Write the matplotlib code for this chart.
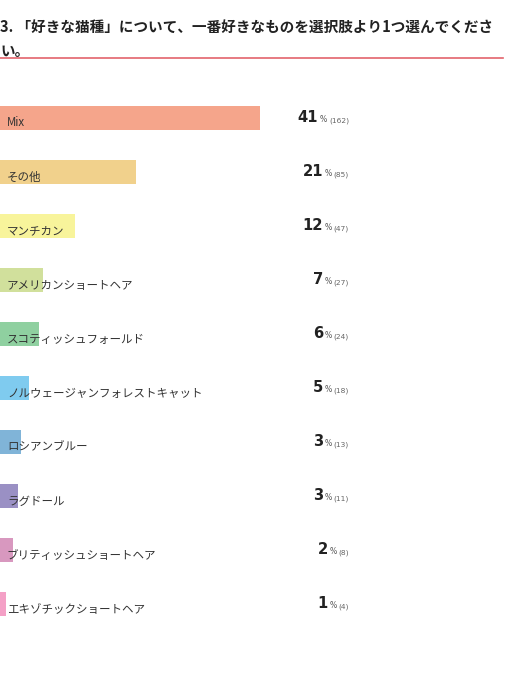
import matplotlib

matplotlib.use("Agg")

import matplotlib.pyplot as plt
from matplotlib.transforms import blended_transform_factory

plt.rcParams["font.family"] = ["Noto Sans CJK JP", "DejaVu Sans"]

breeds = [
    "Mix",
    "その他",
    "マンチカン",
    "アメリカンショートヘア",
    "スコティッシュフォールド",
    "ノルウェージャンフォレストキャット",
    "ロシアンブルー",
    "ラグドール",
    "ブリティッシュショートヘア",
    "エキゾチックショートヘア",
]
percents = [41, 21, 12, 7, 6, 5, 3, 3, 2, 1]
counts = [162, 85, 47, 27, 24, 18, 13, 11, 8, 4]
bar_colors = [
    "#f5a58b", "#f1d18c", "#f8f49b", "#d1e09c", "#8fd0a0",
    "#7fcbef", "#80b4d8", "#9a90c4", "#d898bf", "#f4a0c6",
]

W, H = 511, 700
fig = plt.figure(figsize=(W / 100, H / 100), dpi=100)
fig.patch.set_facecolor("white")

# axes covers the whole canvas; x = count, y = row index
ax = fig.add_axes([0, 0, 1, 1])
px_per_count = 260 / 162
row_top, row_step = 118, 54
ax.set_xlim(0, W / px_per_count)
ax.set_ylim((H - row_top) / row_step, -row_top / row_step)
ax.axis("off")

rows = list(range(len(breeds)))
ax.barh(rows, counts, height=24 / row_step, color=bar_colors, edgecolor="none", zorder=1)

num_font = "DejaVu Sans"
tr = blended_transform_factory(ax.transAxes, ax.transData)
for i, (name, pct, n) in enumerate(zip(breeds, percents, counts)):
    ax.text(7 / W, i + 5 / row_step, name, transform=tr, ha="left", va="center",
            fontsize=8.3, color="#333333", zorder=3)
    paren = ax.text(349 / W, i + 3 / row_step, f"({n})", transform=tr, ha="right",
                    va="center", fontsize=5.4, family=num_font, color="#666666", zorder=3)
    sign = ax.annotate("%", xy=(0, 0), xycoords=paren, xytext=(-1.2, 0),
                       textcoords="offset points", ha="right", va="bottom",
                       fontsize=5.6, family=num_font, color="#555555")
    ax.annotate(str(pct), xy=(0, 0), xycoords=sign, xytext=(-1.2, -0.4),
                textcoords="offset points", ha="right", va="bottom",
                fontsize=10.6, fontweight="bold", family=num_font, color="#222222")

# title and red rule
fig.text(0, 1 - 27 / H, "3. 「好きな猫種」について、一番好きなものを選択肢より1つ選んでくださ",
         ha="left", va="center", fontsize=10.5, fontweight="bold", color="#222222")
fig.text(0, 1 - 51 / H, "い。", ha="left", va="center", fontsize=10.5,
         fontweight="bold", color="#222222")
fig.add_artist(plt.Line2D([0, 503 / W], [1 - 58 / H, 1 - 58 / H],
                          transform=fig.transFigure, color="#e3646c", linewidth=1.2))

fig.savefig("out.png", dpi=100, facecolor="white")
